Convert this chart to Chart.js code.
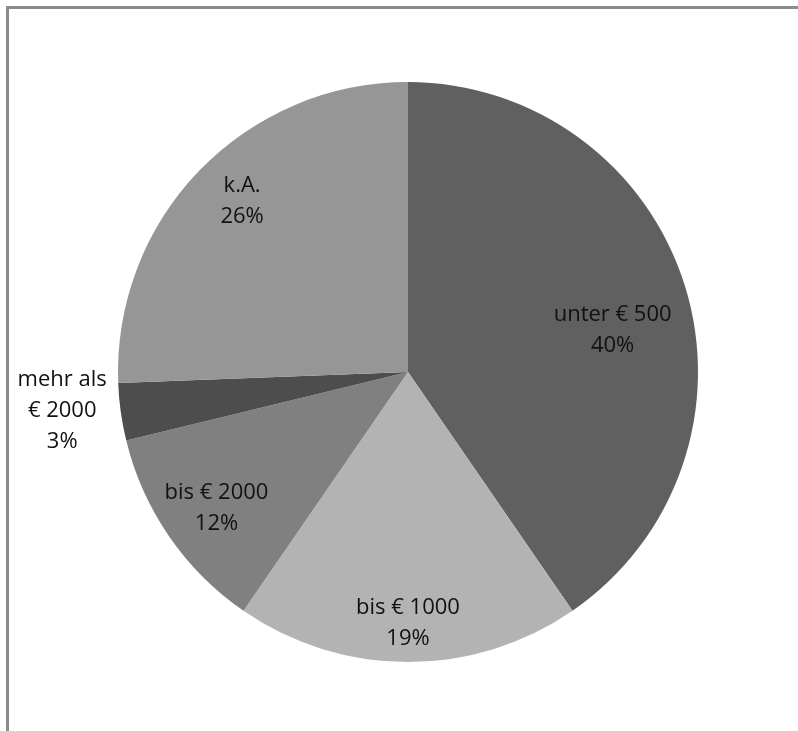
<!DOCTYPE html>
<html>
<head>
<meta charset="utf-8">
<script src="https://cdn.jsdelivr.net/npm/chart.js@4/dist/chart.umd.min.js"></script>
<style>
    html, body { margin: 0; padding: 0; background: #fff; }
    #wrap { position: relative; width: 798px; height: 731px; overflow: hidden; }
    #frame {
        position: absolute; left: 6px; top: 6px; right: -10px; bottom: -10px;
        border-left: 3px solid #8c8c8c; border-top: 3px solid #8c8c8c;
    }
    #mychart { position: absolute; left: 0; top: 0; }
</style>
</head>
<body>
<div id="wrap">
    <div id="frame"></div>
    <canvas id="mychart" width="798" height="731"></canvas>
</div>
<script>
// slice values (shares of the full circle)
const categories = ['unter € 500', 'bis € 1000', 'bis € 2000', 'mehr als € 2000', 'k.A.'];
const shares = [40.4, 19.2, 11.6, 3.2, 25.6];
const percentLabels = ['40%', '19%', '12%', '3%', '26%'];
const labelLines = [
    ['unter € 500', '40%'],
    ['bis € 1000', '19%'],
    ['bis € 2000', '12%'],
    ['mehr als', '€ 2000', '3%'],
    ['k.A.', '26%']
];

const sliceColors = ['#606060', '#b3b3b3', '#808080', '#4d4d4d', '#969696'];
// where each label sits: radius (in radii) and position inside the slice (0..1)
const labelRadius = [0.72, 0.865, 0.81, 1.2, 0.82];
const labelSpot = [0.54, 0.5, 0.48, 0.63, 0.52];

const sliceLabels = {
    id: 'sliceLabels',
    afterDatasetsDraw(chart) {
        const ctx = chart.ctx;
        const meta = chart.getDatasetMeta(0);
        ctx.save();
        ctx.font = '22px "Open Sans", Lato, sans-serif';
        ctx.fillStyle = '#111';
        ctx.textAlign = 'center';
        ctx.textBaseline = 'middle';
        meta.data.forEach((arc, i) => {
            const a = arc.startAngle + (arc.endAngle - arc.startAngle) * labelSpot[i];
            const r = arc.outerRadius * labelRadius[i];
            const x = arc.x + Math.cos(a) * r;
            const y = arc.y + Math.sin(a) * r;
            const lines = labelLines[i];
            const lh = 31;
            lines.forEach((t, j) => {
                ctx.fillText(t, x, y + (j - (lines.length - 1) / 2) * lh);
            });
        });
        ctx.restore();
    }
};

new Chart(document.getElementById('mychart').getContext('2d'), {
    type: 'pie',
    data: {
        labels: categories,
        datasets: [{
            data: shares,
            backgroundColor: sliceColors,
            borderWidth: 0
        }]
    },
    options: {
        responsive: false,
        animation: false,
        layout: { padding: { left: 118, right: 100, top: 82, bottom: 69 } },
        plugins: {
            legend: { display: false },
            tooltip: { enabled: false }
        }
    },
    plugins: [sliceLabels]
});
</script>
</body>
</html>
